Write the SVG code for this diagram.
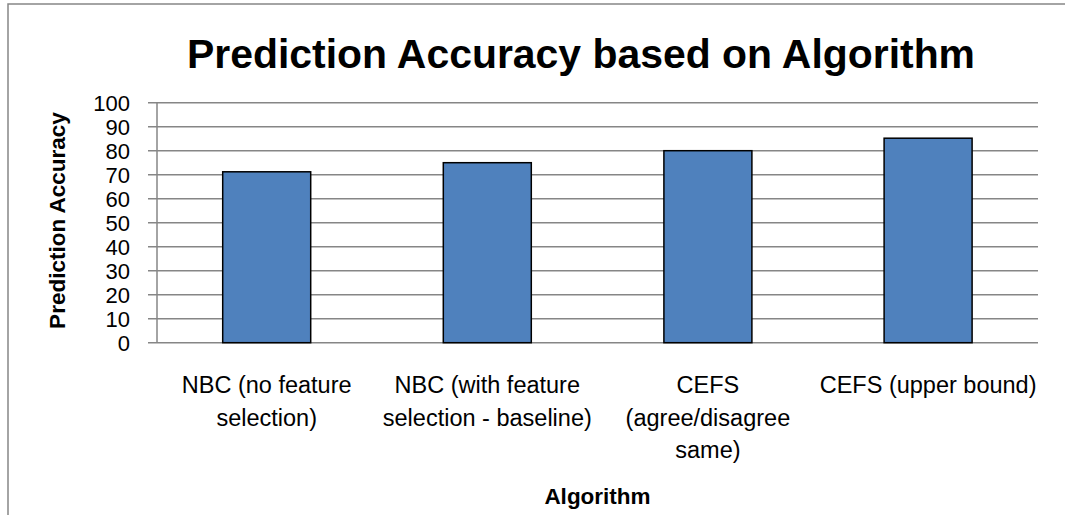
<svg xmlns="http://www.w3.org/2000/svg" width="1065" height="515" viewBox="0 0 1065 515">
  <style>
    .frame { fill: none; stroke: #868686; stroke-width: 1.5; }
    .grid { stroke: #868686; stroke-width: 1.5; }
    .bar { fill: #4F81BD; stroke: #000000; stroke-width: 1.5; }
    .tick { font-family: "Liberation Sans", Arial, sans-serif; font-size: 22px; fill: #000; text-anchor: end; }
    .cat { font-family: "Liberation Sans", Arial, sans-serif; font-size: 23.5px; fill: #000; text-anchor: middle; }
    .axis-title { font-family: "Liberation Sans", Arial, sans-serif; font-size: 22.5px; font-weight: bold; fill: #000; text-anchor: middle; }
    .title { font-family: "Liberation Sans", Arial, sans-serif; font-size: 41px; font-weight: bold; fill: #000; text-anchor: middle; }
  </style>

  <rect x="0" y="0" width="1065" height="515" fill="#ffffff"/>

  <!-- chart frame (left and top edges) -->
  <path class="frame" d="M8,515 V4 H1065"/>

  <!-- chart title -->
  <g id="title">
    <text class="title" x="581" y="68" textLength="788" lengthAdjust="spacingAndGlyphs">Prediction Accuracy based on Algorithm</text>
  </g>

  <!-- gridlines with tick stubs, y = 342.7 - 24 * step -->
  <g id="gridlines">
    <line class="grid" x1="148" y1="342.7" x2="1038" y2="342.7"/>
    <line class="grid" x1="148" y1="318.7" x2="1038" y2="318.7"/>
    <line class="grid" x1="148" y1="294.7" x2="1038" y2="294.7"/>
    <line class="grid" x1="148" y1="270.7" x2="1038" y2="270.7"/>
    <line class="grid" x1="148" y1="246.7" x2="1038" y2="246.7"/>
    <line class="grid" x1="148" y1="222.7" x2="1038" y2="222.7"/>
    <line class="grid" x1="148" y1="198.7" x2="1038" y2="198.7"/>
    <line class="grid" x1="148" y1="174.7" x2="1038" y2="174.7"/>
    <line class="grid" x1="148" y1="150.7" x2="1038" y2="150.7"/>
    <line class="grid" x1="148" y1="126.7" x2="1038" y2="126.7"/>
    <line class="grid" x1="148" y1="102.7" x2="1038" y2="102.7"/>
    <line class="grid" x1="157" y1="102.7" x2="157" y2="342.7"/>
  </g>

  <!-- value axis labels -->
  <g id="y-axis">
    <text class="tick" x="130" y="350.5">0</text>
    <text class="tick" x="130" y="326.5">10</text>
    <text class="tick" x="130" y="302.5">20</text>
    <text class="tick" x="130" y="278.5">30</text>
    <text class="tick" x="130" y="254.5">40</text>
    <text class="tick" x="130" y="230.5">50</text>
    <text class="tick" x="130" y="206.5">60</text>
    <text class="tick" x="130" y="182.5">70</text>
    <text class="tick" x="130" y="158.5">80</text>
    <text class="tick" x="130" y="134.5">90</text>
    <text class="tick" x="130" y="110.5">100</text>
    <text class="axis-title" transform="translate(64.5,220.5) rotate(-90)">Prediction Accuracy</text>
  </g>

  <!-- bars -->
  <g id="bar-nbc-no-fs">
    <rect class="bar" x="222.7" y="171.8" width="88" height="170.9"/>
  </g>
  <g id="bar-nbc-fs">
    <rect class="bar" x="443.3" y="162.7" width="88" height="180"/>
  </g>
  <g id="bar-cefs-same">
    <rect class="bar" x="663.9" y="150.7" width="88" height="192"/>
  </g>
  <g id="bar-cefs-upper">
    <rect class="bar" x="884.1" y="138.2" width="88" height="204.5"/>
  </g>

  <!-- category labels -->
  <g id="label-nbc-no-fs">
    <text class="cat" x="266.7" y="393">NBC (no feature</text>
    <text class="cat" x="266.7" y="425.5">selection)</text>
  </g>
  <g id="label-nbc-fs">
    <text class="cat" x="487.3" y="393">NBC (with feature</text>
    <text class="cat" x="487.3" y="425.5">selection - baseline)</text>
  </g>
  <g id="label-cefs-same">
    <text class="cat" x="707.9" y="393">CEFS</text>
    <text class="cat" x="707.9" y="425.5">(agree/disagree</text>
    <text class="cat" x="707.9" y="458">same)</text>
  </g>
  <g id="label-cefs-upper">
    <text class="cat" x="928.1" y="393">CEFS (upper bound)</text>
  </g>

  <!-- category axis title -->
  <g id="x-axis-title">
    <text class="axis-title" x="597.5" y="503.5">Algorithm</text>
  </g>

  <g id="connectors"/>
</svg>
